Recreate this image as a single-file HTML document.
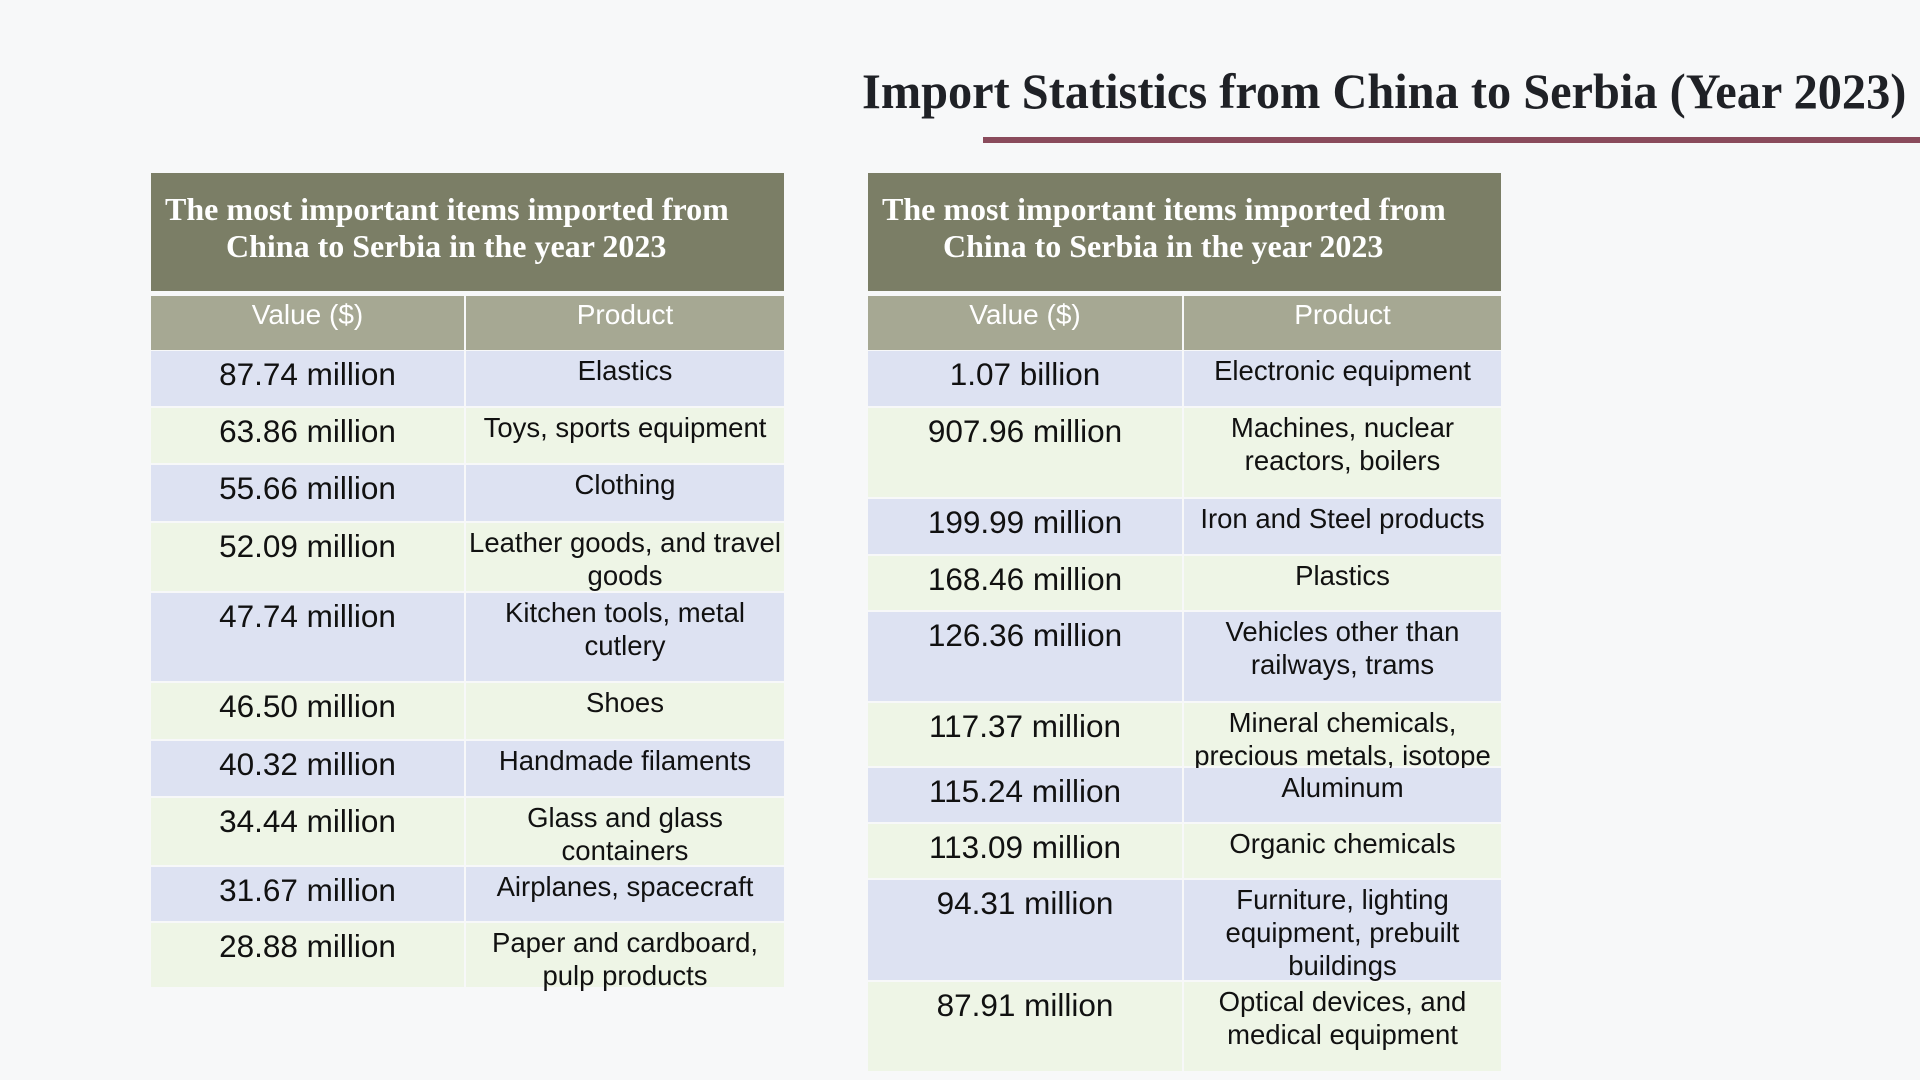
<!DOCTYPE html>
<html><head><meta charset="utf-8"><style>
body{margin:0;width:1920px;height:1080px;background:#f7f8f9;position:relative;overflow:hidden;font-family:"Liberation Sans",sans-serif;}
.t{position:absolute;left:862px;top:62px;font-family:"Liberation Serif",serif;font-weight:bold;font-size:50px;color:#1f2126;white-space:nowrap;transform:scaleX(0.967);transform-origin:left top;}
.ul{position:absolute;left:983px;top:137px;width:937px;height:6px;background:#8a4b5c;}
.c{position:absolute;box-sizing:border-box;text-align:center;color:#111;}
.h{background:#7b7e66;color:#fff;font-family:"Liberation Serif",serif;font-weight:bold;font-size:32px;line-height:37px;padding-top:18px;text-align:left;padding-left:14px;white-space:nowrap;}
.s{background:#a6a893;color:#fff;font-size:28px;padding-top:3px;}
.b{background:#dde2f2;}
.g{background:#eef5e6;}
.v{font-size:31.5px;padding-top:5px;}
.p{font-size:27.5px;line-height:33px;padding-top:3px;white-space:nowrap;}
</style></head><body>
<div class="t">Import Statistics from China to Serbia (Year 2023)</div>
<div class="ul"></div>
<div id="a"></div>
<script>
function tbl(x,w1,w2,rows){
 let h='';
 h+=`<div class="c h" style="left:${x}px;top:173px;width:${w1+w2}px;height:118px">The most important items imported from<br><span style="padding-left:61px">China to Serbia in the year 2023</span></div>`;
 h+=`<div class="c s" style="left:${x}px;top:296px;width:${w1-2}px;height:54px">Value ($)</div>`;
 h+=`<div class="c s" style="left:${x+w1}px;top:296px;width:${w2}px;height:54px">Product</div>`;
 rows.forEach((r,i)=>{
  const cls=i%2?'g':'b';
  const t=r[0],b=r[1];
  h+=`<div class="c v ${cls}" style="left:${x}px;top:${t}px;width:${w1-2}px;height:${b-t-2}px">${r[2]}</div>`;
  h+=`<div class="c p ${cls}" style="left:${x+w1}px;top:${t}px;width:${w2}px;height:${b-t-2}px">${r[3]}</div>`;
 });
 return h;
}
const L=[351,408,465,523,593,683,741,798,867,923,989];
const ld=[["87.74 million","Elastics"],["63.86 million","Toys, sports equipment"],["55.66 million","Clothing"],["52.09 million","Leather goods, and travel<br>goods"],["47.74 million","Kitchen tools, metal<br>cutlery"],["46.50 million","Shoes"],["40.32 million","Handmade filaments"],["34.44 million","Glass and glass<br>containers"],["31.67 million","Airplanes, spacecraft"],["28.88 million","Paper and cardboard,<br>pulp products"]];
const R=[351,408,499,556,612,703,768,824,880,982,1073];
const rd=[["1.07 billion","Electronic equipment"],["907.96 million","Machines, nuclear<br>reactors, boilers"],["199.99 million","Iron and Steel products"],["168.46 million","Plastics"],["126.36 million","Vehicles other than<br>railways, trams"],["117.37 million","Mineral chemicals,<br>precious metals, isotope"],["115.24 million","Aluminum"],["113.09 million","Organic chemicals"],["94.31 million","Furniture, lighting<br>equipment, prebuilt<br>buildings"],["87.91 million","Optical devices, and<br>medical equipment"]];
let out=tbl(151,315,318,ld.map((d,i)=>[L[i],L[i+1],d[0],d[1]]));
out+=tbl(868,316,317,rd.map((d,i)=>[R[i],R[i+1],d[0],d[1]]));
document.getElementById('a').innerHTML=out;
</script>
</body></html>
